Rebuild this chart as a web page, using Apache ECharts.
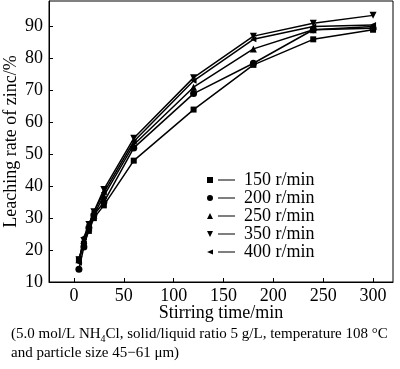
<!DOCTYPE html>
<html><head><meta charset="utf-8">
<script src="https://cdn.jsdelivr.net/npm/echarts@6/dist/echarts.min.js"></script>
<style>html,body{margin:0;padding:0;background:#fff}#c{width:400px;height:369px}</style>
</head><body><div id="c"></div>
<script>
const times = [5, 10, 15, 20, 30, 60, 120, 180, 240, 300];
const seriesNames = ['150 r/min', '200 r/min', '250 r/min', '350 r/min', '400 r/min'];
const s150 = [17, 22, 26, 30, 34, 48, 64, 78, 86, 89];
const s200 = [14, 21, 27, 31, 35, 52, 69, 78.5, 89, 89.5];
const s250 = [17, 23, 27, 31, 37, 53, 71, 83, 89, 90];
const s350 = [17, 23, 28, 32, 39, 55, 74, 87, 91, 93.5];
const s400 = [16, 24, 28, 32, 38, 54, 73, 86, 90, 90.5];
const xTicks = [0, 50, 100, 150, 200, 250, 300];
const yTicks = [10, 20, 30, 40, 50, 60, 70, 80, 90];

const font = 'Liberation Serif';
const values = [s150, s200, s250, s350, s400];
const symbols = ['rect', 'circle', 'triangle', 'triangle', 'triangle'];
const rotates = [0, 0, 0, 180, 90];
const sizes = [6, 7, 7, 7, 6];
const lineSeg = ' M11,2.5 L28,2.5 L28,3.5 L11,3.5 Z';
const icons = [
  'path://M0,0 L6,0 L6,6 L0,6 Z' + lineSeg,
  'path://M0,3 A3,3 0 1,1 6,3 A3,3 0 1,1 0,3 Z' + lineSeg,
  'path://M3,0 L6,6 L0,6 Z' + lineSeg,
  'path://M0,0 L6,0 L3,6 Z' + lineSeg,
  'path://M0,3 L6,0.5 L6,5.5 Z' + lineSeg
];

const chart = echarts.init(document.getElementById('c'), null, {renderer: 'canvas'});
chart.setOption({
  animation: false,
  backgroundColor: '#fff',
  textStyle: {fontFamily: font, color: '#000'},
  grid: {left: 49, right: 7, top: 1, bottom: 87, show: true, borderColor: '#000', borderWidth: 1,
         containLabel: false, outerBoundsMode: 'none'},
  title: {
    left: 6, top: 320,
    text: '(5.0 mol/L NH{sub|4}Cl, solid/liquid ratio 5 g/L, temperature 108 °C\nand particle size 45−61 μm)',
    textStyle: {
      fontFamily: font, fontSize: 15, fontWeight: 'normal', color: '#000', lineHeight: 19,
      rich: {sub: {fontFamily: font, fontSize: 10, verticalAlign: 'bottom', padding: [6, 0, 0, 0], color: '#000'}}
    }
  },
  legend: {
    orient: 'vertical', left: 202, top: 166, itemWidth: 28, itemHeight: 6, itemGap: 0,
    textStyle: {fontFamily: font, fontSize: 18, color: '#000', lineHeight: 18, padding: [0, 0, 0, 4]},
    data: seriesNames.map((n, i) => ({name: n, icon: icons[i], itemStyle: {color: '#000'}}))
  },
  xAxis: {
    type: 'value', min: -25, max: 320, interval: 50,
    name: 'Stirring time/min', nameLocation: 'middle', nameGap: 22, nameMoveOverlap: false,
    nameTextStyle: {fontFamily: font, fontSize: 18, color: '#000'},
    axisLine: {onZero: false, lineStyle: {color: '#000', width: 1}},
    axisTick: {inside: true, length: 4, lineStyle: {color: '#000'}, customValues: xTicks},
    axisLabel: {fontFamily: font, fontSize: 18, color: '#000', margin: 5, customValues: xTicks},
    splitLine: {show: false}
  },
  yAxis: {
    type: 'value', min: 10, max: 98, interval: 10,
    name: 'Leaching rate of zinc/%', nameLocation: 'middle', nameGap: 29, nameMoveOverlap: false,
    nameTextStyle: {fontFamily: font, fontSize: 18, color: '#000'},
    axisLine: {onZero: false, lineStyle: {color: '#000', width: 1}},
    axisTick: {inside: true, length: 4, lineStyle: {color: '#000'}, customValues: yTicks},
    axisLabel: {fontFamily: font, fontSize: 18, color: '#000', margin: 6, customValues: yTicks},
    splitLine: {show: false}
  },
  series: values.map((v, i) => ({
    name: seriesNames[i], type: 'line',
    data: times.map((t, j) => [t, v[j]]),
    symbol: symbols[i], symbolRotate: rotates[i], symbolSize: sizes[i],
    lineStyle: {color: '#000', width: 1.5},
    itemStyle: {color: '#000'}
  }))
});
</script></body></html>
